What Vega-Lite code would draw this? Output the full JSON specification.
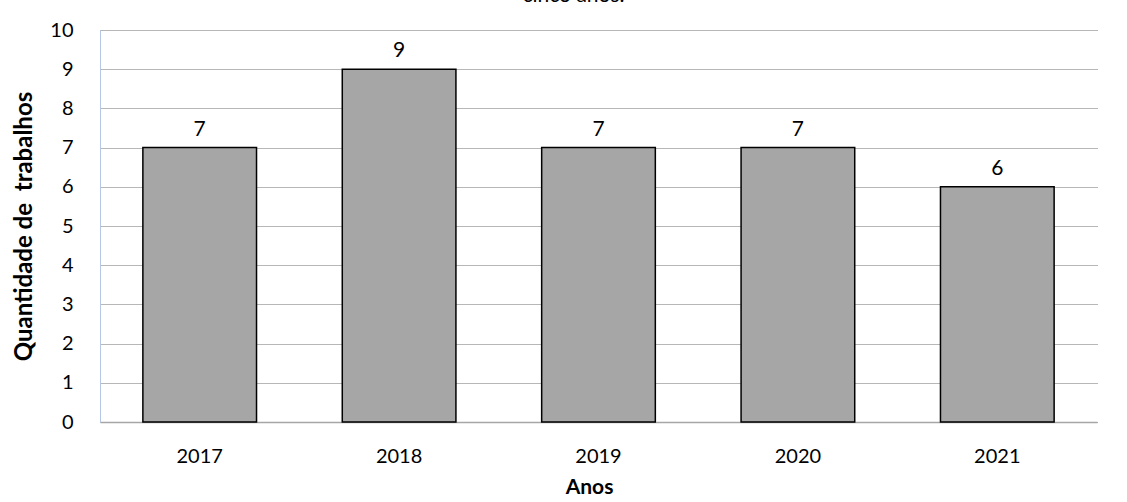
{
  "$schema": "https://vega.github.io/schema/vega-lite/v6.json",
  "autosize": "none",
  "width": 997,
  "height": 392,
  "padding": {"left": 100, "top": 30, "right": 30, "bottom": 80},
  "background": "white",
  "title": {
    "text": "cinco anos.",
    "font": "Lato",
    "fontSize": 21,
    "fontWeight": "normal",
    "color": "#000000",
    "anchor": "middle",
    "offset": 14,
    "dx": -25
  },
  "data": {
    "values": [
      {"ano": "2017", "qtd": 7},
      {"ano": "2018", "qtd": 9},
      {"ano": "2019", "qtd": 7},
      {"ano": "2020", "qtd": 7},
      {"ano": "2021", "qtd": 6}
    ]
  },
  "encoding": {
    "x": {
      "field": "ano",
      "type": "ordinal",
      "title": "Anos",
      "scale": {"paddingInner": 0.43, "paddingOuter": 0.215},
      "axis": {
        "labelAngle": 0,
        "labelFont": "Lato",
        "labelFontSize": 20,
        "labelColor": "#000000",
        "labelPadding": 24,
        "ticks": false,
        "domainColor": "#A6A6A6",
        "domainWidth": 1.5,
        "titleFont": "Lato",
        "titleFontSize": 21,
        "titleFontWeight": "bold",
        "titleColor": "#000000",
        "titlePadding": 10,
        "titleX": 489
      }
    },
    "y": {
      "field": "qtd",
      "type": "quantitative",
      "title": "Quantidade de\u00a0 trabalhos",
      "scale": {"domain": [0, 10], "nice": false},
      "axis": {
        "values": [0, 1, 2, 3, 4, 5, 6, 7, 8, 9, 10],
        "labelFont": "Lato",
        "labelFontSize": 20,
        "labelColor": "#000000",
        "labelPadding": 27,
        "ticks": false,
        "domainColor": "#B4C7E7",
        "domainWidth": 1,
        "grid": true,
        "gridColor": "#6E6E6E",
        "gridDash": [1, 1],
        "gridWidth": 1,
        "titleFont": "Lato",
        "titleFontSize": 24,
        "titleFontWeight": "bold",
        "titleColor": "#000000",
        "titlePadding": 13,
        "titleY": 196
      }
    }
  },
  "layer": [
    {
      "mark": {"type": "bar", "color": "#A6A6A6", "stroke": "#000000", "strokeWidth": 1.5}
    },
    {
      "mark": {"type": "text", "baseline": "bottom", "dy": -8, "font": "Lato", "fontSize": 21, "color": "#000000"},
      "encoding": {"text": {"field": "qtd", "type": "quantitative"}}
    }
  ],
  "config": {"view": {"stroke": null}}
}
